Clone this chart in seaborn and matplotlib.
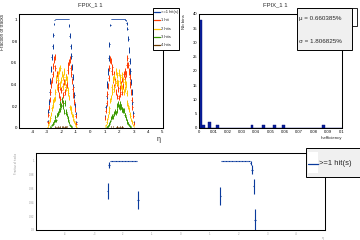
import numpy as np
import pandas as pd
import matplotlib
matplotlib.use("Agg")
import matplotlib.pyplot as plt
import seaborn as sns
from matplotlib.ticker import MultipleLocator, FuncFormatter
from matplotlib.patches import Rectangle
from matplotlib.lines import Line2D

# ---- data -------------------------------------------------------------
HALF_BIN = 0.025          # eta bins are 0.05 wide
N_TRK = 300               # tracks per bin, used for the binomial errors

ETA_NEG = np.round(np.arange(-2.975, -0.95, 0.05), 3)   # 41 bins
ETA_POS = np.round(np.arange(1.025, 3.05, 0.05), 3)     # 41 bins

# >=1 hit(s)
EFF_ANY_NEG = ([0.06, 0.15, 0.24, 0.33, 0.43, 0.54, 0.65, 0.75, 0.855, 0.956, 0.994]
               + [1.0] * 19
               + [0.943, 0.85, 0.75, 0.66, 0.56, 0.47, 0.38, 0.30, 0.21, 0.13, 0.05])
EFF_ANY_POS = ([0.10, 0.19, 0.29, 0.40, 0.52, 0.64, 0.77, 0.949]
               + [1.0] * 20
               + [0.997, 0.987, 0.963, 0.914, 0.82, 0.72, 0.62, 0.52, 0.42, 0.33, 0.24, 0.14, 0.05])

# exactly 1 hit
EFF_1_NEG = ([0.05, 0.12, 0.19, 0.26, 0.33, 0.40, 0.44, 0.50, 0.57, 0.63, 0.65]
             + [0.55, 0.44, 0.50, 0.36, 0.41, 0.30, 0.38, 0.27, 0.35, 0.25, 0.39, 0.30, 0.42, 0.33, 0.38, 0.47, 0.40, 0.53, 0.58]
             + [0.61, 0.63, 0.55, 0.50, 0.43, 0.36, 0.30, 0.24, 0.17, 0.11, 0.04])
EFF_1_POS = ([0.09, 0.16, 0.23, 0.31, 0.39, 0.46, 0.55, 0.63]
             + [0.62, 0.52, 0.56, 0.44, 0.50, 0.38, 0.43, 0.33, 0.41, 0.29, 0.36, 0.28, 0.37, 0.31, 0.40, 0.33, 0.45, 0.39, 0.50, 0.45]
             + [0.52, 0.50, 0.58, 0.64, 0.58, 0.52, 0.47, 0.40, 0.33, 0.26, 0.19, 0.11, 0.04])

# 2 hits
EFF_2_NEG = ([0.01, 0.03, 0.05, 0.07, 0.09, 0.13, 0.18, 0.21, 0.24, 0.26, 0.27]
             + [0.33, 0.46, 0.38, 0.50, 0.44, 0.53, 0.40, 0.55, 0.44, 0.50, 0.38, 0.47, 0.52, 0.42, 0.47, 0.37, 0.45, 0.35, 0.32]
             + [0.28, 0.19, 0.18, 0.15, 0.12, 0.11, 0.08, 0.06, 0.04, 0.02, 0.01])
EFF_2_POS = ([0.01, 0.03, 0.05, 0.08, 0.11, 0.15, 0.18, 0.25]
             + [0.28, 0.38, 0.33, 0.45, 0.36, 0.47, 0.41, 0.52, 0.42, 0.49, 0.41, 0.51, 0.43, 0.47, 0.39, 0.49, 0.37, 0.44, 0.33, 0.42]
             + [0.36, 0.40, 0.32, 0.23, 0.20, 0.17, 0.13, 0.11, 0.08, 0.06, 0.05, 0.03, 0.01])

# 3 hits
EFF_3_NEG = ([0, 0, 0, 0, 0.01, 0.01, 0.03, 0.04, 0.04, 0.06, 0.07]
             + [0.10, 0.07, 0.12, 0.14, 0.13, 0.16, 0.22, 0.17, 0.21, 0.26, 0.20, 0.23, 0.15, 0.23, 0.14, 0.15, 0.12, 0.09, 0.07]
             + [0.05, 0.03, 0.02, 0.01, 0.01, 0, 0, 0, 0, 0, 0])
EFF_3_POS = ([0, 0, 0.01, 0.01, 0.02, 0.03, 0.04, 0.06]
             + [0.09, 0.10, 0.11, 0.10, 0.13, 0.14, 0.15, 0.14, 0.16, 0.21, 0.22, 0.20, 0.19, 0.22, 0.20, 0.17, 0.17, 0.16, 0.16, 0.12]
             + [0.12, 0.09, 0.07, 0.05, 0.04, 0.03, 0.02, 0.01, 0.01, 0, 0, 0, 0])

# 4 hits
EFF_4_NEG = ([0] * 11
             + [0.01, 0, 0, 0.01, 0, 0, 0.01, 0, 0, 0.01, 0.01, 0, 0, 0.01, 0.01, 0, 0.01, 0, 0]
             + [0] * 11)
EFF_4_POS = ([0] * 8
             + [0.01, 0, 0, 0.01, 0, 0, 0, 0, 0.01, 0.01, 0, 0, 0.01, 0, 0, 0.01, 0.01, 0, 0, 0]
             + [0] * 13)

SERIES = [">=1 hit(s)", "1 hit", "2 hits", "3 hits", "4 hits"]
COLORS = ["#0a3a9c", "#ff3a00", "#ffc400", "#3a9a00", "#6b3a00"]

# inefficiency histogram, 50 bins of 0.002 between 0 and 0.1
INEFF_EDGES = [round(0.002 * i, 4) for i in range(51)]
INEFF_COUNTS = [38, 1, 0, 2, 0, 0, 1, 0, 0, 0,
                0, 0, 0, 0, 0, 0, 0, 0, 1, 0,
                0, 0, 1, 0, 0, 0, 1, 0, 0, 1,
                0, 0, 0, 0, 0, 0, 0, 0, 0, 0,
                0, 0, 0, 1, 0, 0, 0, 0, 0, 0]
STATS = ["\u03bc = 0.660385%", "\u03c3 = 1.806825%"]
TITLE = "FPIX_1 1"

# ---- build the tables ---------------------------------------------------
eta = np.concatenate([ETA_NEG, ETA_POS])
df = pd.DataFrame({
    "eta": eta,
    SERIES[0]: EFF_ANY_NEG + EFF_ANY_POS,
    SERIES[1]: EFF_1_NEG + EFF_1_POS,
    SERIES[2]: EFF_2_NEG + EFF_2_POS,
    SERIES[3]: EFF_3_NEG + EFF_3_POS,
    SERIES[4]: EFF_4_NEG + EFF_4_POS,
})
edges = np.array(INEFF_EDGES)
df_hist = pd.DataFrame({"ineff": (edges[:-1] + edges[1:]) / 2,
                        "n": INEFF_COUNTS})

sns.set_theme(style="white")
plt.rcParams['font.family'] = ['Liberation Sans', 'DejaVu Sans']

fig = plt.figure(figsize=(3.6, 2.4), dpi=100)
ax1 = fig.add_axes([0.053, 0.467, 0.400, 0.475])
ax2 = fig.add_axes([0.553, 0.467, 0.397, 0.475])
ax3 = fig.add_axes([0.100, 0.042, 0.803, 0.3205])

fmt_g = FuncFormatter(lambda v, p: "%g" % v)


def root_frame(ax, fs, maj, mnr, lcolor="black"):
    for s in ax.spines.values():
        s.set_visible(True)
        s.set_color("black")
        s.set_linewidth(0.75)
    ax.tick_params(which="both", direction="in", top=False, right=False,
                   labelsize=fs, pad=1.2, width=0.5, color="black", labelcolor=lcolor)
    ax.tick_params(which="major", length=maj)
    ax.tick_params(which="minor", length=mnr)


def draw_eff(ax, col, color, lw=0.7):
    y = df[col].to_numpy()
    err = np.sqrt(y * (1 - y) / N_TRK)
    ax.errorbar(df["eta"], y, yerr=err, xerr=HALF_BIN, fmt="none",
                ecolor=color, elinewidth=lw, capsize=0)


# ---- top left: fraction of tracks vs eta -------------------------------
for col, c in zip(SERIES, COLORS):
    draw_eff(ax1, col, c)
ax1.set_xlim(-4.95, 5.05)
ax1.set_ylim(0, 1.05)
ax1.xaxis.set_major_locator(MultipleLocator(1))
ax1.xaxis.set_minor_locator(MultipleLocator(0.2))
ax1.yaxis.set_major_locator(MultipleLocator(0.2))
ax1.yaxis.set_minor_locator(MultipleLocator(0.04))
ax1.xaxis.set_major_formatter(fmt_g)
ax1.yaxis.set_major_formatter(fmt_g)
root_frame(ax1, 3.2, 2.4, 1.2)
ax1.set_ylabel("Fraction of tracks", fontsize=3.3, loc="top")
ax1.yaxis.set_label_coords(-0.095, 1.0)
ax1.set_xlabel("\u03b7", fontsize=5, loc="right")
ax1.xaxis.set_label_coords(0.985, -0.075)
fig.text(0.25, 0.978, TITLE, ha="center", va="center", fontsize=4.2)

# legend box (ROOT style)
fig.patches.append(Rectangle((0.425, 0.792), 0.072, 0.175, transform=fig.transFigure,
                             facecolor="white", edgecolor="black", lw=0.7, zorder=5))
for i, (lab, c) in enumerate(zip(SERIES, COLORS)):
    yy = 0.950 - i * 0.0345
    fig.lines.append(Line2D([0.428, 0.444], [yy, yy], transform=fig.transFigure,
                            color=c, lw=0.9, zorder=6))
    fig.text(0.446, yy, lab, fontsize=3.0, va="center", ha="left", zorder=6)

# ---- top right: inefficiency histogram ---------------------------------
sns.histplot(data=df_hist, x="ineff", weights="n", bins=INEFF_EDGES, ax=ax2,
             color="#0a1f9a", alpha=1.0, edgecolor="#000a7a", linewidth=0.3)
ax2.set_xlim(0, 0.1)
ax2.set_ylim(0, 40)
ax2.xaxis.set_major_locator(MultipleLocator(0.01))
ax2.xaxis.set_minor_locator(MultipleLocator(0.002))
ax2.yaxis.set_major_locator(MultipleLocator(5))
ax2.yaxis.set_minor_locator(MultipleLocator(1))
ax2.xaxis.set_major_formatter(fmt_g)
ax2.yaxis.set_major_formatter(fmt_g)
root_frame(ax2, 3.0, 2.4, 1.2)
ax2.set_ylabel("Nb bins", fontsize=3.2, loc="top")
ax2.yaxis.set_label_coords(-0.095, 1.0)
ax2.set_xlabel("Inefficiency", fontsize=3.2, loc="right")
ax2.xaxis.set_label_coords(1.0, -0.07)
fig.text(0.764, 0.978, TITLE, ha="center", va="center", fontsize=4.2)

# box hidden behind the stats box, then the stats box
fig.patches.append(Rectangle((0.917, 0.892), 0.075, 0.075, transform=fig.transFigure,
                             facecolor="white", edgecolor="black", lw=0.6, zorder=5))
fig.patches.append(Rectangle((0.825, 0.792), 0.153, 0.175, transform=fig.transFigure,
                             facecolor="#f0f0f0", edgecolor="black", lw=0.7, zorder=6))
fig.text(0.831, 0.921, STATS[0], fontsize=4.5, va="center", ha="left", zorder=7)
fig.text(0.831, 0.826, STATS[1], fontsize=4.5, va="center", ha="left", zorder=7)

# ---- bottom: zoom on the plateau ----------------------------------------
draw_eff(ax3, SERIES[0], COLORS[0], lw=0.8)
ax3.set_xlim(-5, 5)
ax3.set_ylim(0.9, 1.011)
ax3.set_xticks(range(-4, 5))
ax3.xaxis.set_minor_locator(MultipleLocator(0.2))
ax3.yaxis.set_major_locator(MultipleLocator(0.02))
ax3.yaxis.set_minor_locator(MultipleLocator(0.004))
ax3.xaxis.set_major_formatter(fmt_g)
ax3.yaxis.set_major_formatter(fmt_g)
root_frame(ax3, 2.0, 4.5, 2.5, lcolor="#9a9a9a")
ax3.tick_params(axis="x", which="major", length=2.0)
ax3.tick_params(axis="x", which="minor", length=1.2)
ax3.set_ylabel("Fraction of tracks", fontsize=2.0, loc="top", color="#9a9a9a")
ax3.yaxis.set_label_coords(-0.062, 1.0)
ax3.set_xlabel("\u03b7", fontsize=2.5, loc="right", color="#9a9a9a")
ax3.xaxis.set_label_coords(0.995, -0.075)

fig.patches.append(Rectangle((0.850, 0.2625), 0.149, 0.121, transform=fig.transFigure,
                             facecolor="#f0f0f0", edgecolor="black", lw=0.7, zorder=5))
fig.patches.append(Rectangle((0.855, 0.280), 0.027, 0.085, transform=fig.transFigure,
                             facecolor="white", edgecolor="none", zorder=6))
fig.lines.append(Line2D([0.855, 0.884], [0.317, 0.317], transform=fig.transFigure,
                        color=COLORS[0], lw=0.9, zorder=7))
fig.text(0.886, 0.317, SERIES[0], fontsize=5.5, va="center", ha="left", zorder=7)

fig.savefig("out.png", dpi=100)
